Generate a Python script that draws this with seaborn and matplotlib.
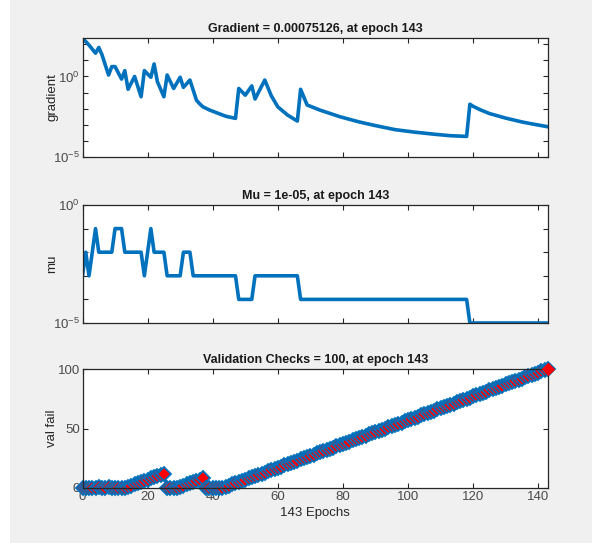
import matplotlib
matplotlib.use("Agg")
import matplotlib.pyplot as plt
import seaborn as sns
import pandas as pd
from matplotlib.patches import Rectangle

# ---------------- data ----------------
grad_epochs = [0, 2, 4, 5, 6, 8, 9, 10, 12, 13, 14, 16, 18, 19, 21, 22, 23, 25,
               26, 28, 30, 31, 33, 35, 36, 37, 39, 41, 44, 47, 48, 50, 52, 53,
               56, 58, 60, 63, 66, 67, 69, 73, 79, 85, 90, 96, 102, 108, 113,
               118, 119, 120, 122, 125, 130, 135, 139, 143]
grad_values = [245, 89, 28, 63, 22, 1.23, 4.1, 4.1, 0.69, 2.3, 0.16, 1.0, 0.055,
               2.3, 0.89, 6.0, 0.48, 0.055, 1.23, 0.18, 0.89, 0.21, 0.60, 0.034,
               0.020, 0.013, 0.0083, 0.0058, 0.0034, 0.0025, 0.18, 0.069, 0.26,
               0.040, 0.60, 0.063, 0.013, 0.0040, 0.0017, 0.16, 0.017, 0.0081,
               0.0032, 0.0015, 0.00089, 0.0005, 0.00035, 0.00026, 0.00021,
               0.00019, 0.019, 0.014, 0.0089, 0.0050, 0.0026, 0.0015, 0.00105,
               0.00075126]

mu_epochs = [0, 1, 2, 4, 5, 9, 10, 12, 13, 18, 19, 21, 22, 25, 26, 30, 31, 33,
             34, 47, 48, 52, 53, 66, 67, 118, 119, 143]
mu_values = [1e-3, 1e-2, 1e-3, 1e-1, 1e-2, 1e-2, 1e-1, 1e-1, 1e-2, 1e-2, 1e-3,
             1e-1, 1e-2, 1e-2, 1e-3, 1e-3, 1e-2, 1e-2, 1e-3, 1e-3, 1e-4, 1e-4,
             1e-3, 1e-3, 1e-4, 1e-4, 1e-5, 1e-5]

val_fail = [0, 0, 0, 0, 0, 1, 0, 0, 1, 0, 0, 0, 0,
            0, 1, 2, 3, 4, 5, 6, 7, 8, 9, 10, 11, 12,
            0, 0, 0, 0, 1, 2, 3, 4, 5, 6, 7, 8,
            0, 0, 0, 0, 0, 0,
            1, 2, 3, 4, 5, 6, 7, 8, 9, 10, 11, 12, 13, 14, 15, 16, 17, 18, 19, 20,
            21, 22, 23, 24, 25, 26, 27, 28, 29, 30, 31, 32, 33, 34, 35, 36, 37, 38, 39, 40,
            41, 42, 43, 44, 45, 46, 47, 48, 49, 50, 51, 52, 53, 54, 55, 56, 57, 58, 59, 60,
            61, 62, 63, 64, 65, 66, 67, 68, 69, 70, 71, 72, 73, 74, 75, 76, 77, 78, 79, 80,
            81, 82, 83, 84, 85, 86, 87, 88, 89, 90, 91, 92, 93, 94, 95, 96, 97, 98, 99, 100]
val_epochs = list(range(len(val_fail)))

titles = ["Gradient = 0.00075126, at epoch 143",
          "Mu = 1e-05, at epoch 143",
          "Validation Checks = 100, at epoch 143"]
ylabels = ["gradient", "mu", "val fail"]
xlabel = "143 Epochs"
xticks = [0, 20, 40, 60, 80, 100, 120, 140]

# ---------------- style ----------------
sns.set_style("white")
plt.rcParams["font.family"] = ["Liberation Sans", "DejaVu Sans"]
plt.rcParams["mathtext.fontset"] = "custom"
plt.rcParams["mathtext.rm"] = "Liberation Sans"
plt.rcParams["mathtext.it"] = "Liberation Sans"

BLUE = "#0072BD"
GRAY_TXT = "#4a4a4a"
SPINE = "#262626"

fig = plt.figure(figsize=(5.92, 5.43), dpi=100, facecolor="#f0f0f0")
fig.patches.append(Rectangle((0, 0), 10 / 592, 1, transform=fig.transFigure,
                             facecolor="white", edgecolor="none", zorder=-1))

left, width = 82.5 / 592, 465.5 / 592
ax1 = fig.add_axes([left, 1 - 157 / 543, width, 119 / 543])
ax2 = fig.add_axes([left, 1 - 323 / 543, width, 118 / 543])
ax3 = fig.add_axes([left, 1 - 488 / 543, width, 119 / 543])

df_g = pd.DataFrame({"epoch": grad_epochs, "value": grad_values})
df_m = pd.DataFrame({"epoch": mu_epochs, "value": mu_values})
df_v = pd.DataFrame({"epoch": val_epochs, "value": val_fail})

sns.lineplot(data=df_g, x="epoch", y="value", ax=ax1, color=BLUE, lw=2.6,
             sort=False, estimator=None)
sns.lineplot(data=df_m, x="epoch", y="value", ax=ax2, color=BLUE, lw=2.6,
             sort=False, estimator=None)
sns.lineplot(data=df_v, x="epoch", y="value", ax=ax3, color=BLUE, lw=2,
             sort=False, estimator=None, marker="D", markersize=7,
             markerfacecolor="red", markeredgecolor=BLUE, markeredgewidth=1.3,
             clip_on=False)
last = df_v.iloc[[-1]]
sns.scatterplot(data=last, x="epoch", y="value", ax=ax3, marker="D", s=40,
                color="red", edgecolor="red", zorder=5, clip_on=False)

ax1.set_yscale("log")
ax2.set_yscale("log")
ax1.set_ylim(1e-5, grad_values[0])
ax2.set_ylim(1e-5, 1)
ax3.set_ylim(0, 100)

dec1 = [10.0 ** k for k in range(-5, 3)]
ax1.set_yticks(dec1)
ax1.set_yticklabels(["$10^{-5}$" if k == -5 else "$10^{0}$" if k == 0 else ""
                     for k in range(-5, 3)])
dec2 = [10.0 ** k for k in range(-5, 1)]
ax2.set_yticks(dec2)
ax2.set_yticklabels(["$10^{-5}$" if k == -5 else "$10^{0}$" if k == 0 else ""
                     for k in range(-5, 1)])
ax3.set_yticks([0, 50, 100])
ax1.minorticks_off()
ax2.minorticks_off()

for ax, t, yl in zip([ax1, ax2, ax3], titles, ylabels):
    ax.set_xlim(0, 143)
    ax.set_xticks(xticks)
    ax.set_facecolor("white")
    ax.set_title(t, fontsize=9, fontweight="bold", color="#1a1a1a", pad=4)
    ax.set_ylabel(yl, fontsize=9.5, color="#262626")
    ax.yaxis.set_label_coords(-0.052, 0.5)
    ax.set_xlabel("")
    ax.tick_params(direction="in", length=3.5, width=0.8, color=SPINE,
                   top=True, right=True, bottom=True, left=True,
                   labelsize=9.5, labelcolor=GRAY_TXT, pad=2)
    for s in ax.spines.values():
        s.set_color(SPINE)
        s.set_linewidth(0.9)
        s.set_visible(True)

ax1.tick_params(labelbottom=False)
ax2.tick_params(labelbottom=False)
ax3.set_xlabel(xlabel, fontsize=9.5, color="#262626", labelpad=3)

fig.savefig("out.png", dpi=100, facecolor=fig.get_facecolor())
